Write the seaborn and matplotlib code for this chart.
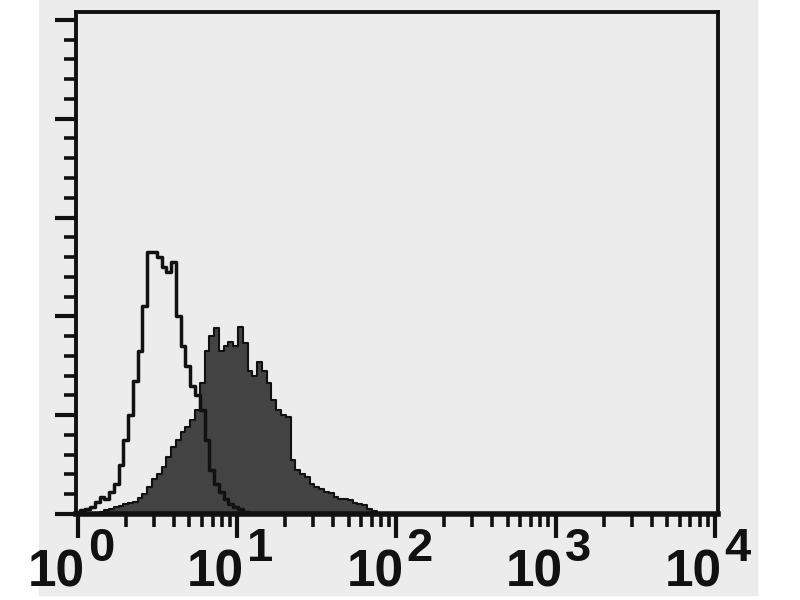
import numpy as np
import pandas as pd
import matplotlib
matplotlib.use("Agg")
import matplotlib.pyplot as plt
import matplotlib.patches as patches
from matplotlib.ticker import MultipleLocator, LogLocator, NullFormatter
import seaborn as sns

# channel centres (log10 of intensity) and counts
open_log = [0.00, 0.03, 0.06, 0.09, 0.12, 0.15, 0.18, 0.21, 0.24, 0.27,
            0.30, 0.33, 0.36, 0.39, 0.42, 0.45, 0.48, 0.51, 0.54, 0.57,
            0.60, 0.63, 0.66, 0.69, 0.72, 0.75, 0.78, 0.81, 0.84, 0.87,
            0.90, 0.93, 0.96, 0.99, 1.02, 1.05, 1.08]
open_counts = [0.5, 0.8, 1.0, 1.5, 2.5, 3.5, 3.0, 4.5, 6.0, 10,
               15, 20, 27, 33, 42, 53, 53, 52, 50, 49,
               51, 40, 34, 30, 26, 24, 21, 15, 9, 6,
               4.5, 3, 2, 1.5, 1, 0.5, 0.3]

filled_log = [0.12, 0.15, 0.18, 0.21, 0.24, 0.27, 0.30, 0.33, 0.36, 0.39,
              0.42, 0.45, 0.48, 0.51, 0.54, 0.57, 0.60, 0.63, 0.66, 0.69,
              0.72, 0.75, 0.78, 0.81, 0.84, 0.87, 0.90, 0.93, 0.96, 0.99,
              1.02, 1.05, 1.08, 1.11, 1.14, 1.17, 1.20, 1.23, 1.26, 1.29,
              1.32, 1.35, 1.38, 1.41, 1.44, 1.47, 1.50, 1.53, 1.56, 1.59,
              1.62, 1.65, 1.68, 1.71, 1.74, 1.77, 1.80, 1.83, 1.86, 1.89]
filled_counts = [0.3, 0.5, 0.8, 1.1, 1.4, 1.7, 2.0, 2.2, 2.5, 3.2,
                 4.0, 5.5, 7.0, 8.0, 9.5, 11.5, 13.6, 15, 16.5, 17.6,
                 19, 21, 26.5, 33, 36, 37.7, 33, 34, 34.8, 34,
                 37.9, 34.6, 29, 28, 30.8, 29, 26.5, 23, 21, 20,
                 19.6, 11, 9, 8, 7.5, 6, 5.5, 5, 4.5, 4.3,
                 3.5, 3, 3, 2.8, 2.2, 2, 1.8, 1.0, 0.6, 0.3]

decades = [0, 1, 2, 3, 4]

w = 0.03
open_df = pd.DataFrame({"fl": 10 ** np.array(open_log), "n": open_counts})
filled_df = pd.DataFrame({"fl": 10 ** np.array(filled_log), "n": filled_counts})

sns.set_style("white")
fig = plt.figure(figsize=(8, 6), dpi=100)
fig.patch.set_facecolor("white")
# scanned paper area
paper = patches.Rectangle((39 / 800, 5 / 600), 718 / 800, 595 / 600,
                          transform=fig.transFigure, color="#ececec", zorder=-5)
fig.add_artist(paper)

ax = fig.add_axes([76 / 800, 1 - 514 / 600, 642 / 800, 502 / 600])
ax.set_zorder(2)
ax.set_facecolor("none")

sns.histplot(data=filled_df, x="fl", weights="n", log_scale=True,
             bins=len(filled_log),
             binrange=(filled_log[0] - w / 2, filled_log[-1] + w / 2),
             element="step", fill=True, color="#3a3a3a", alpha=0.95,
             edgecolor="#111111", linewidth=1.5, ax=ax, zorder=2)
sns.histplot(data=open_df, x="fl", weights="n", log_scale=True,
             bins=len(open_log),
             binrange=(open_log[0] - w / 2, open_log[-1] + w / 2),
             element="step", fill=False, color="#111111", linewidth=2.5,
             ax=ax, zorder=3)

ax.set_xlim(10 ** -0.0126, 10 ** 4.019)
ax.set_ylim(0, 101.6)
ax.set_xlabel("")
ax.set_ylabel("")

ax.xaxis.set_major_locator(LogLocator(base=10, numticks=10))
ax.xaxis.set_minor_locator(LogLocator(base=10, subs=np.arange(2, 10), numticks=20))
ax.xaxis.set_major_formatter(NullFormatter())
ax.xaxis.set_minor_formatter(NullFormatter())
ax.yaxis.set_major_locator(MultipleLocator(20))
ax.yaxis.set_minor_locator(MultipleLocator(4))
ax.yaxis.set_major_formatter(NullFormatter())

ax.tick_params(which="both", bottom=True, left=True, top=False, right=False)
ax.tick_params(which="major", direction="out", length=17, width=3, color="#111111")
ax.tick_params(which="minor", direction="out", length=9, width=2.6, color="#111111")
ax.tick_params(axis="y", which="major", length=15)

for side in ["left", "bottom", "top", "right"]:
    ax.spines[side].set_visible(True)
    ax.spines[side].set_color("#111111")
    ax.spines[side].set_linewidth(2.8)
ax.spines["bottom"].set_linewidth(4)

lab_font = ["Liberation Sans Narrow", "Liberation Sans", "DejaVu Sans"]
for d in decades:
    ax.annotate("10", xy=(10 ** d, 0), xycoords=("data", "axes fraction"),
                xytext=(5, -52), textcoords="offset points",
                ha="right", va="baseline", fontsize=37, fontweight="bold",
                family=lab_font, color="#111111", annotation_clip=False)
    ax.annotate(str(d), xy=(10 ** d, 0), xycoords=("data", "axes fraction"),
                xytext=(7, -34), textcoords="offset points",
                ha="left", va="baseline", fontsize=34, fontweight="bold",
                family=lab_font, color="#111111", annotation_clip=False)

fig.savefig("out.png", dpi=100)
